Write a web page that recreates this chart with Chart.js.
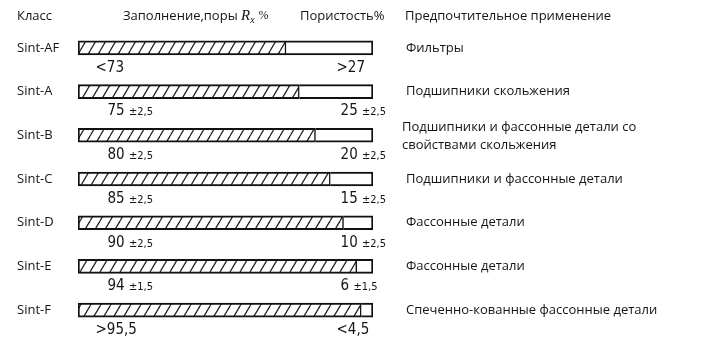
<!DOCTYPE html>
<html>
<head>
<meta charset="utf-8">
<script src="https://cdn.jsdelivr.net/npm/chart.js@4.4.1/dist/chart.umd.min.js"></script>
<style>
  html, body { margin: 0; padding: 0; background: #fff; }
  #chart { display: block; }
</style>
</head>
<body>
<canvas id="chart" width="716" height="340"></canvas>
<script>
  var classes = ['Sint-AF', 'Sint-A', 'Sint-B', 'Sint-C', 'Sint-D', 'Sint-E', 'Sint-F'];
  // filled part (hatched) and pores part, % as drawn
  var filling = [70.5, 75, 80.5, 85.5, 90, 94.5, 96];
  var porosity = [29.5, 25, 19.5, 14.5, 10, 5.5, 4];
  var fillLabels = ['<73', '75 ±2,5', '80 ±2,5', '85 ±2,5', '90 ±2,5', '94 ±1,5', '>95,5'];
  var poreLabels = ['>27', '25 ±2,5', '20 ±2,5', '15 ±2,5', '10 ±2,5', '6 ±1,5', '<4,5'];
  var uses = [
    ['Фильтры'],
    ['Подшипники скольжения'],
    ['Подшипники и фассонные детали со', 'свойствами скольжения'],
    ['Подшипники и фассонные детали'],
    ['Фассонные детали'],
    ['Фассонные детали'],
    ['Спеченно-кованные фассонные детали']
  ];

  // hatch pattern  ////
  var tile = document.createElement('canvas');
  tile.width = 10;
  tile.height = 17;
  var tc = tile.getContext('2d');
  tc.fillStyle = '#fff';
  tc.fillRect(0, 0, 10, 17);
  tc.strokeStyle = '#1a1a1a';
  tc.lineWidth = 1.2;
  for (var k = -1; k <= 1; k++) {
    tc.beginPath();
    tc.moveTo(k * 10, 17);
    tc.lineTo(k * 10 + 10, 0);
    tc.stroke();
  }
  var ctx = document.getElementById('chart').getContext('2d');
  var hatch = ctx.createPattern(tile, 'repeat');

  var textFont = '13px "Open Sans"';
  var txtColor = '#141414';

  function drawValue(c, str, x, y) {
    var parts = str.split('±');
    c.textAlign = 'left';
    c.textBaseline = 'middle';
    c.font = '15px "DejaVu Sans Condensed"';
    c.fillText(parts[0], x, y);
    if (parts.length > 1) {
      var w = c.measureText(parts[0]).width;
      c.font = '11px "DejaVu Sans Condensed"';
      c.fillText('±' + parts[1], x + w, y + 1);
    }
  }

  var textPlugin = {
    id: 'texts',
    afterDraw: function(chart) {
      var c = chart.ctx;
      var xs = chart.scales.x;
      var ys = chart.scales.y;
      c.save();
      c.fillStyle = txtColor;
      c.textBaseline = 'middle';
      c.textAlign = 'left';

      // header row
      c.font = textFont;
      c.fillText('Класс', 17, 16);
      var t = 'Заполнение,поры ';
      c.fillText(t, 123, 16);
      var hx = 123 + c.measureText(t).width;
      c.font = 'italic 15px "Liberation Serif"';
      c.fillText('R', hx, 16);
      hx += c.measureText('R').width;
      c.font = 'italic 10px "Liberation Serif"';
      c.fillText('x', hx, 20);
      hx += c.measureText('x').width + 4;
      c.font = '12px "Liberation Serif"';
      c.fillText('%', hx, 16);
      c.font = textFont;
      c.fillText('Пористость%', 300, 16);
      c.fillText('Предпочтительное применение', 405, 16);

      for (var i = 0; i < classes.length; i++) {
        var yc = ys.getPixelForValue(i);
        c.font = textFont;
        c.fillStyle = txtColor;
        c.fillText(classes[i], 17, yc);

        var lines = uses[i];
        for (var j = 0; j < lines.length; j++) {
          var ly = lines.length > 1 ? yc - 8 + j * 18 : yc;
          c.fillText(lines[j], lines.length > 1 ? 402 : 406, ly);
        }

        var yl = yc + 20;
        var lx = xs.getPixelForValue(10);
        if (/^[<>]/.test(fillLabels[i])) lx -= 12;
        drawValue(c, fillLabels[i], lx, yl);
        var rx = xs.getPixelForValue(89);
        if (/^[<>]/.test(poreLabels[i])) rx -= 4;
        drawValue(c, poreLabels[i], rx, yl);
      }
      c.restore();
    }
  };

  var myChart = new Chart(ctx, {
    type: 'bar',
    data: {
      labels: classes,
      datasets: [{
        data: filling,
        backgroundColor: hatch,
        borderColor: '#111',
        borderWidth: {top: 2, bottom: 2, left: 2, right: 1.5},
        borderSkipped: false,
        barThickness: 14
      }, {
        data: porosity,
        backgroundColor: '#fff',
        borderColor: '#111',
        borderWidth: {top: 2, bottom: 2, left: 0, right: 2},
        borderSkipped: false,
        barThickness: 14
      }]
    },
    options: {
      indexAxis: 'y',
      responsive: false,
      animation: false,
      layout: {
        padding: {left: 78, right: 343, top: 26, bottom: 8}
      },
      plugins: {
        legend: {display: false},
        tooltip: {enabled: false}
      },
      scales: {
        x: {stacked: true, min: 0, max: 100, display: false},
        y: {stacked: true, display: false}
      }
    },
    plugins: [textPlugin]
  });
</script>
</body>
</html>
